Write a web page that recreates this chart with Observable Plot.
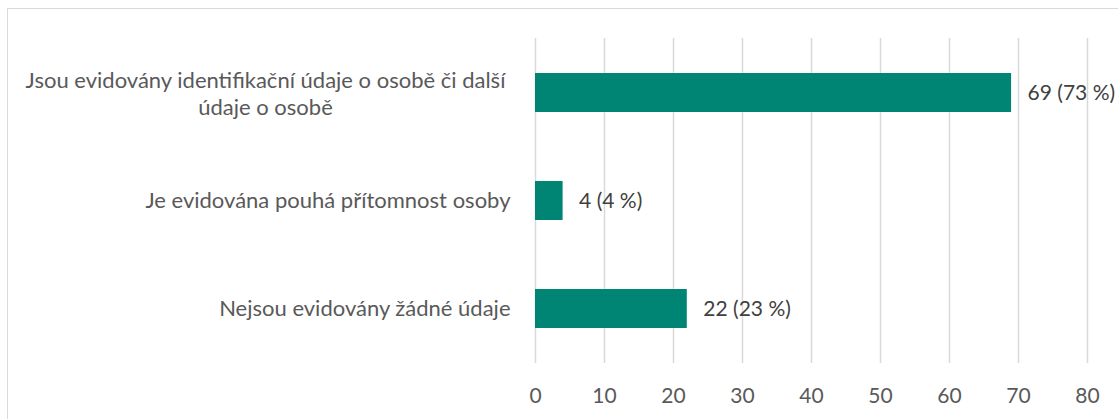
<!DOCTYPE html>
<html>
<head>
<meta charset="utf-8">
<script src="https://cdn.jsdelivr.net/npm/d3@7"></script>
<script src="https://cdn.jsdelivr.net/npm/@observablehq/plot@0.6"></script>
<style>
  html, body { margin: 0; padding: 0; background: #fff; }
  #wrap { position: relative; width: 1118px; height: 419px; overflow: hidden; }
  #frame { position: absolute; left: 7px; top: 8px; width: 1130px; height: 430px; border: 1.5px solid #d9d9d9; box-sizing: border-box; }
  #chart { position: absolute; left: 0; top: 0; }
</style>
</head>
<body>
<div id="wrap"><div id="frame"></div><div id="chart"></div></div>
<script>
const categories = [
  "Jsou evidovány identifikační údaje o osobě či další\núdaje o osobě",
  "Je evidována pouhá přítomnost osoby",
  "Nejsou evidovány žádné údaje"
];
const counts = [69, 4, 22];
const percents = [73, 4, 23];
const xTicks = [0, 10, 20, 30, 40, 50, 60, 70, 80];

const rows = categories.map((c, i) => ({cat: c, n: counts[i], p: percents[i], multi: c.includes("\n")}));

const FS = 22;
const FV = 21;
const chart = Plot.plot({
  width: 1118,
  height: 419,
  marginLeft: 535,
  marginRight: 31,
  marginTop: 38,
  marginBottom: 56,
  style: {fontFamily: "Lato, 'Open Sans', sans-serif", fontSize: FS + "px", color: "#595959", background: "transparent", overflow: "visible"},
  x: {domain: [0, 80], ticks: xTicks, label: null},
  y: {domain: categories, paddingInner: 0.64, paddingOuter: 0.32, axis: null},
  marks: [
    Plot.ruleX(xTicks, {stroke: "#d9d9d9", strokeWidth: 1.5}),
    Plot.barX(rows, {y: "cat", x: "n", fill: "#008575"}),
    Plot.text(rows, {y: "cat", x: "n", text: d => `${d.n} (${d.p} %)`, textAnchor: "start", dx: 16, fill: "#404040", fontSize: FV}),
    Plot.text(rows.filter(d => !d.multi), {y: "cat", x: () => 0, text: "cat", textAnchor: "end", dx: -25, fill: "#595959", fontSize: FS}),
    Plot.text(rows.filter(d => d.multi), {y: "cat", x: () => 0, text: "cat", textAnchor: "middle", dx: -270, fill: "#595959", fontSize: FS, lineHeight: 1.23}),
    Plot.axisX({ticks: xTicks, tickSize: 0, tickPadding: 25, fill: "#595959", fontSize: FV, label: null})
  ]
});
document.getElementById("chart").appendChild(chart);
</script>
</body>
</html>
